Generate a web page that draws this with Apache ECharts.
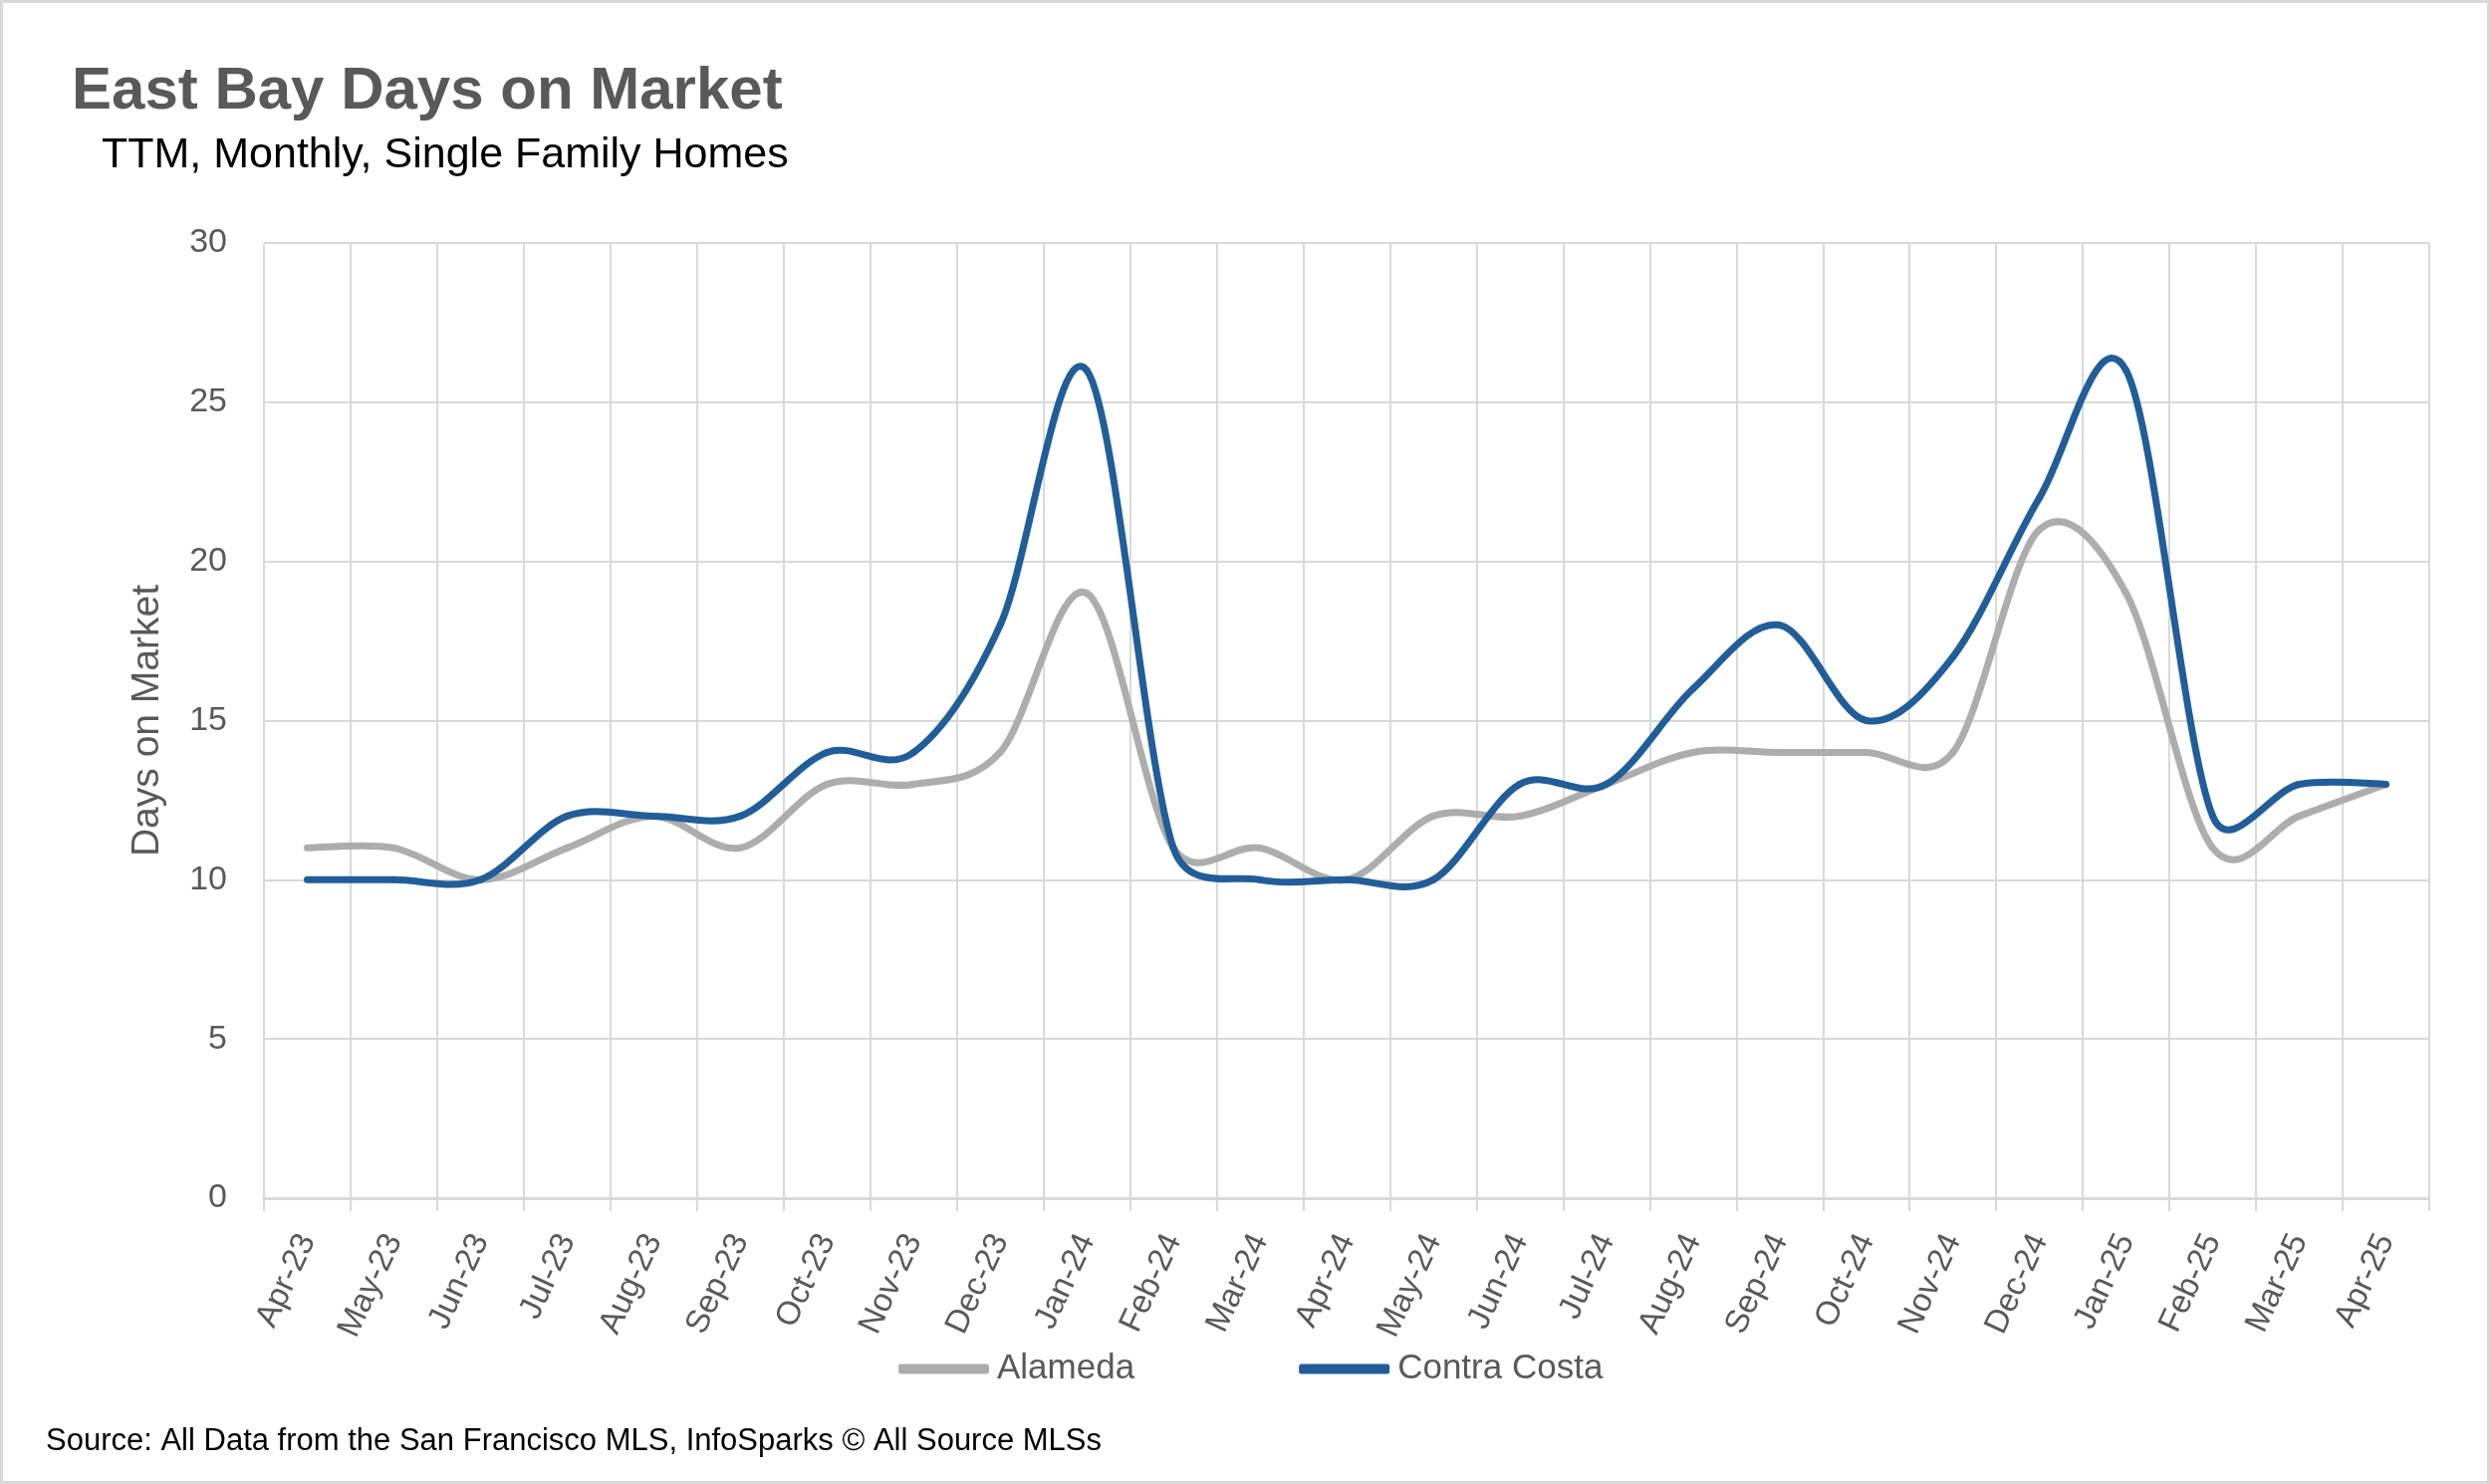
<!DOCTYPE html>
<html>
<head>
<meta charset="utf-8">
<script src="https://cdn.jsdelivr.net/npm/echarts@6/dist/echarts.min.js"></script>
<style>
html,body{margin:0;padding:0;background:#fff;}
#chart{width:2500px;height:1490px;}
</style>
</head>
<body>
<div id="chart"></div>
<script>
const categories = ['Apr-23','May-23','Jun-23','Jul-23','Aug-23','Sep-23','Oct-23','Nov-23','Dec-23','Jan-24','Feb-24','Mar-24','Apr-24','May-24','Jun-24','Jul-24','Aug-24','Sep-24','Oct-24','Nov-24','Dec-24','Jan-25','Feb-25','Mar-25','Apr-25'];
const alameda = [11,11,10,11,12,11,13,13,14,19,11,11,10,12,12,13,14,14,14,14,21,19,11,12,13];
const contraCosta = [10,10,10,12,12,12,14,14,18,26,11,10,10,10,13,13,16,18,15,17,22,26,12,13,13];
const yTicks = {min:0, max:30, interval:5};
const titleText = 'East Bay Days on Market';
const subtitleText = 'TTM, Monthly, Single Family Homes';
const sourceText = 'Source: All Data from the San Francisco MLS, InfoSparks \u00A9 All Source MLSs';

const FONT = "'Liberation Sans', Arial, sans-serif";
const GRAY = '#ADADAD';
const BLUE = '#215E99';

// Spreadsheet-style smoothed line: Bezier segments with 1/6 Catmull-Rom tangents,
// each control arm capped at half of its adjacent segment; points come from api.coord.
function smoothRenderer(values, color) {
  return function (params, api) {
    const i = params.dataIndex;
    const n = values.length;
    if (i >= n - 1) return null;
    const cl = k => Math.max(0, Math.min(n - 1, k));
    const c = k => api.coord([cl(k), values[cl(k)]]);
    const dist = (a, b) => Math.hypot(a[0] - b[0], a[1] - b[1]);
    const p0 = c(i - 1), p1 = c(i), p2 = c(i + 1), p3 = c(i + 2);
    const d12 = dist(p1, p2);
    // tangent at p1
    let t1 = [(p2[0] - p0[0]) / 6, (p2[1] - p0[1]) / 6];
    let l1 = Math.hypot(t1[0], t1[1]);
    let s1 = l1 > 0 ? Math.min(1, 0.5 * d12 / l1) : 1;
    // tangent at p2
    let t2 = [(p3[0] - p1[0]) / 6, (p3[1] - p1[1]) / 6];
    let l2 = Math.hypot(t2[0], t2[1]);
    let s2 = l2 > 0 ? Math.min(1, 0.5 * d12 / l2) : 1;
    return {
      type: 'bezierCurve',
      shape: {
        x1: p1[0], y1: p1[1], x2: p2[0], y2: p2[1],
        cpx1: p1[0] + t1[0] * s1, cpy1: p1[1] + t1[1] * s1,
        cpx2: p2[0] - t2[0] * s2, cpy2: p2[1] - t2[1] * s2
      },
      style: {stroke: color, lineWidth: 7, fill: null, lineCap: 'round', lineJoin: 'round'},
      silent: true
    };
  };
}

const chart = echarts.init(document.getElementById('chart'));
chart.setOption({
  backgroundColor: '#ffffff',
  animation: false,
  textStyle: {fontFamily: FONT},
  graphic: [
    {type:'rect', shape:{x:1.5,y:1.5,width:2497,height:1487}, style:{fill:'none', stroke:'#d9d9d9', lineWidth:3}, silent:true},
    {type:'text', left:72, top:62, style:{text:titleText, font:"bold 60px " + FONT, fill:'#595959'}},
    {type:'text', left:102, top:135, style:{text:subtitleText, font:"43px " + FONT, fill:'#000000'}},
    {type:'text', left:46, top:1432, style:{text:sourceText, font:"31px " + FONT, fill:'#000000'}}
  ],
  legend: {
    left: 902, top: 1357, padding: 0,
    icon: 'roundRect', itemWidth: 91, itemHeight: 10, itemGap: 165,
    textStyle: {fontFamily: FONT, fontSize: 35, color: '#595959', padding:[0,0,0,3]},
    data: [
      {name:'Alameda', itemStyle:{color:GRAY}},
      {name:'Contra Costa', itemStyle:{color:BLUE}}
    ]
  },
  grid: {left: 265, right: 61, top: 244, bottom: 287, containLabel: false},
  xAxis: {
    type: 'category',
    data: categories,
    boundaryGap: true,
    axisLine: {show: true, lineStyle: {color: '#d9d9d9', width: 3}},
    axisTick: {show: true, length: 13, lineStyle: {color: '#d9d9d9', width: 2}},
    splitLine: {show: true, lineStyle: {color: '#d9d9d9', width: 2}},
    axisLabel: {interval: 0, rotate: 65, fontSize: 33, margin: 38, color: '#595959', fontFamily: FONT}
  },
  yAxis: {
    type: 'value',
    min: yTicks.min, max: yTicks.max, interval: yTicks.interval,
    name: 'Days on Market', nameLocation: 'middle', nameGap: 97,
    nameTextStyle: {fontSize: 39, color: '#595959', fontFamily: FONT},
    axisLine: {show: false},
    axisTick: {show: false},
    splitLine: {show: true, lineStyle: {color: '#d9d9d9', width: 2}},
    axisLabel: {fontSize: 34, margin: 37, color: '#595959', fontFamily: FONT}
  },
  series: [
    {name:'Alameda', type:'custom', renderItem: smoothRenderer(alameda, GRAY),
     data: alameda.map((v, i) => [i, v]), encode: {x: 0, y: 1},
     itemStyle:{color:GRAY}, z: 2},
    {name:'Contra Costa', type:'custom', renderItem: smoothRenderer(contraCosta, BLUE),
     data: contraCosta.map((v, i) => [i, v]), encode: {x: 0, y: 1},
     itemStyle:{color:BLUE}, z: 3}
  ]
});
</script>
</body>
</html>
